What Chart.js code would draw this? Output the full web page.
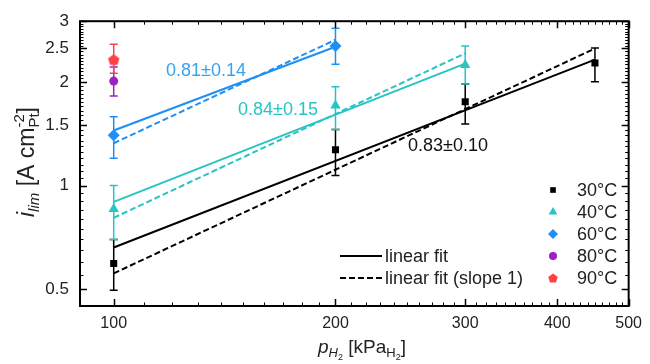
<!DOCTYPE html>
<html><head><meta charset="utf-8">
<script src="https://cdn.jsdelivr.net/npm/chart.js@4.4.1/dist/chart.umd.min.js"></script>
<style>html,body{margin:0;padding:0;background:#fff}</style>
</head><body>
<canvas id="c" width="650" height="364"></canvas>
<script>
// ---- axis ticks ----
const xTickValues = [100, 200, 300, 400, 500];
const yTickValues = [0.5, 1, 1.5, 2, 2.5, 3];

// ---- measured data (p_H2 in kPa, i_lim in A cm^-2 Pt) ----
const pressure30 = [100, 200, 300, 450];
const ilim30     = [0.594, 1.27, 1.75, 2.27];
const lo30       = [0.497, 1.07, 1.51, 2.00];
const hi30       = [0.697, 1.455, 1.97, 2.51];

const pressure40 = [100, 200, 300];
const ilim40     = [0.855, 1.707, 2.24];
const lo40       = [0.697, 1.455, 1.97];
const hi40       = [1.00, 1.936, 2.54];

const pressure60 = [100, 200];
const ilim60     = [1.40, 2.54];
const lo60       = [1.20, 2.25];
const hi60       = [1.585, 2.86];

const pressure80 = [100];
const ilim80     = [2.01];
const lo80       = [1.82];
const hi80       = [2.21];

const pressure90 = [100];
const ilim90     = [2.32];
const lo90       = [2.12];
const hi90       = [2.57];

// ---- fit lines (end points) ----
const fit30X = [100, 450];
const fit30  = [0.661, 2.32];
const fit30s1 = [0.556, 2.50];
const fit40X = [100, 300];
const fit40  = [0.897, 2.26];
const fit40s1 = [0.806, 2.42];
const fit60X = [100, 200];
const fit60  = [1.445, 2.53];
const fit60s1 = [1.327, 2.65];

const slopeLabels = ['0.83\u00b10.10', '0.84\u00b10.15', '0.81\u00b10.14'];
const tempLabels = ['30\u00b0C', '40\u00b0C', '60\u00b0C', '80\u00b0C', '90\u00b0C'];
const fitLabels = ['linear fit', 'linear fit (slope 1)'];

const C_BLACK = '#000000', C_CYAN = '#27c4c4', C_BLUE = '#1e90f5', C_PURPLE = '#9b22c4', C_RED = '#ff4141';
const FONT = '"Liberation Sans", Arial, sans-serif';

function pts(xs, ys) { return xs.map((x, i) => ({x: x, y: ys[i]})); }

// pentagon marker
function pentagon(color, r) {
  const c = document.createElement('canvas');
  const s = Math.ceil(r * 2 + 2);
  c.width = s; c.height = s;
  const g = c.getContext('2d');
  g.fillStyle = color;
  g.beginPath();
  for (let k = 0; k < 5; k++) {
    const a = -Math.PI / 2 + k * 2 * Math.PI / 5;
    const px = s / 2 + r * Math.cos(a), py = s / 2 + r * Math.sin(a) + 0.5;
    if (k === 0) g.moveTo(px, py); else g.lineTo(px, py);
  }
  g.closePath(); g.fill();
  return c;
}
const pentBig = pentagon(C_RED, 6);
const pentSmall = pentagon(C_RED, 5);

function fitDs(xs, ys, color, dashed) {
  return {type: 'line', data: pts(xs, ys), borderColor: color, borderWidth: 2,
    borderDash: dashed ? [6, 3] : [], pointRadius: 0, fill: false, showLine: true, order: 2};
}
function dataDs(xs, ys, lo, hi, color, style, r) {
  return {type: 'scatter', data: pts(xs, ys), errLo: lo, errHi: hi, errColor: color,
    backgroundColor: color, borderColor: color, borderWidth: 0, pointStyle: style,
    pointRadius: r, order: 1};
}

const errorBars = {
  id: 'errorBars',
  beforeDatasetsDraw(chart) {
    const ctx = chart.ctx, y = chart.scales.y;
    ctx.save();
    ctx.lineWidth = 1.5;
    chart.data.datasets.forEach((ds, di) => {
      if (!ds.errLo) return;
      const meta = chart.getDatasetMeta(di);
      meta.data.forEach((pt, i) => {
        const yl = y.getPixelForValue(ds.errLo[i]);
        const yh = y.getPixelForValue(ds.errHi[i]);
        ctx.strokeStyle = ds.errColor;
        ctx.beginPath();
        ctx.moveTo(pt.x, yl); ctx.lineTo(pt.x, yh);
        ctx.moveTo(pt.x - 4, yl); ctx.lineTo(pt.x + 4, yl);
        ctx.moveTo(pt.x - 4, yh); ctx.lineTo(pt.x + 4, yh);
        ctx.stroke();
      });
    });
    ctx.restore();
  }
};

function drawRuns(ctx, runs, x0, base) {
  let x = x0;
  runs.forEach(r => {
    if (r.stack) {
      let w = 0;
      r.stack.forEach(s => { ctx.font = s.f; ctx.fillText(s.t, x, base + s.dy); w = Math.max(w, ctx.measureText(s.t).width); });
      x += w;
    } else {
      ctx.font = r.f; ctx.fillText(r.t, x, base + r.dy); x += ctx.measureText(r.t).width;
    }
  });
  return x - x0;
}
function runsWidth(ctx, runs) {
  let w = 0;
  runs.forEach(r => {
    if (r.stack) { let m = 0; r.stack.forEach(s => { ctx.font = s.f; m = Math.max(m, ctx.measureText(s.t).width); }); w += m; }
    else { ctx.font = r.f; w += ctx.measureText(r.t).width; }
  });
  return w;
}

const decorations = {
  id: 'decorations',
  afterDraw(chart) {
    const ctx = chart.ctx, a = chart.chartArea, xs = chart.scales.x, ys = chart.scales.y;
    ctx.save();
    ctx.strokeStyle = '#000';
    // minor ticks
    ctx.lineWidth = 1;
    ctx.beginPath();
    for (let v = 90; v <= 500; v += 10) {
      const p = Math.round(xs.getPixelForValue(v)) + 0.5;
      ctx.moveTo(p, a.bottom); ctx.lineTo(p, a.bottom - 3.5);
      ctx.moveTo(p, a.top); ctx.lineTo(p, a.top + 3.5);
    }
    for (let k = 9; k <= 60; k++) {
      const v = k * 0.05;
      const p = Math.round(ys.getPixelForValue(v)) + 0.5;
      ctx.moveTo(a.left, p); ctx.lineTo(a.left + 3.5, p);
      ctx.moveTo(a.right, p); ctx.lineTo(a.right - 3.5, p);
    }
    ctx.stroke();
    // major ticks
    ctx.lineWidth = 1.5;
    ctx.beginPath();
    xTickValues.forEach(v => {
      const p = Math.round(xs.getPixelForValue(v)) + 0.5;
      ctx.moveTo(p, a.bottom); ctx.lineTo(p, a.bottom - 7);
      ctx.moveTo(p, a.top); ctx.lineTo(p, a.top + 7);
    });
    yTickValues.forEach(v => {
      const p = Math.round(ys.getPixelForValue(v)) + 0.5;
      ctx.moveTo(a.left, p); ctx.lineTo(a.left + 7, p);
      ctx.moveTo(a.right, p); ctx.lineTo(a.right - 7, p);
    });
    ctx.stroke();
    // frame
    ctx.lineWidth = 2;
    ctx.strokeRect(a.left, a.top, a.right - a.left, a.bottom - a.top);

    // slope annotations
    ctx.textBaseline = 'middle';
    ctx.textAlign = 'left';
    ctx.font = '18px ' + FONT;
    ctx.fillStyle = '#39a2f0'; ctx.fillText(slopeLabels[2], 166, 71);
    ctx.fillStyle = C_CYAN; ctx.fillText(slopeLabels[1], 238, 110);
    ctx.fillStyle = '#111'; ctx.fillText(slopeLabels[0], 408, 146);

    // legend: temperatures
    const H = Chart.helpers;
    const items = [
      {c: C_BLACK, s: 'rect', r: 4},
      {c: C_CYAN, s: 'triangle', r: 5},
      {c: C_BLUE, s: 'rectRot', r: 5},
      {c: C_PURPLE, s: 'circle', r: 4},
      {c: C_RED, s: pentSmall, r: 5}
    ];
    const rowY = [190, 212, 234, 256, 278];
    items.forEach((it, i) => {
      ctx.fillStyle = it.c; ctx.strokeStyle = it.c;
      H.drawPoint(ctx, {pointStyle: it.s, radius: it.r, rotation: 0, borderWidth: 0}, 553, rowY[i]);
      ctx.fillStyle = '#222';
      ctx.font = '18px ' + FONT;
      ctx.fillText(tempLabels[i], 577, rowY[i] + 1);
    });
    // legend: fit lines
    ctx.strokeStyle = '#000'; ctx.lineWidth = 2.2;
    ctx.beginPath(); ctx.moveTo(340, 256); ctx.lineTo(382, 256); ctx.stroke();
    ctx.setLineDash([6, 3]);
    ctx.beginPath(); ctx.moveTo(340, 278); ctx.lineTo(382, 278); ctx.stroke();
    ctx.setLineDash([]);
    ctx.fillStyle = '#222';
    ctx.fillText(fitLabels[0], 385, 257);
    ctx.fillText(fitLabels[1], 385, 279);

    // axis titles
    ctx.textBaseline = 'alphabetic';
    ctx.fillStyle = '#222';
    const xRuns = [
      {t: 'p', f: 'italic 19px ' + FONT, dy: 0},
      {t: 'H', f: 'italic 13px ' + FONT, dy: 4},
      {t: '2', f: '9px ' + FONT, dy: 7},
      {t: ' [kPa', f: '19px ' + FONT, dy: 0},
      {t: 'H', f: '13px ' + FONT, dy: 4},
      {t: '2', f: '9px ' + FONT, dy: 7},
      {t: ']', f: '19px ' + FONT, dy: 0}
    ];
    const xw = runsWidth(ctx, xRuns);
    drawRuns(ctx, xRuns, 362 - xw / 2, 353);

    const yRuns = [
      {t: 'i', f: 'italic 23px ' + FONT, dy: 0},
      {t: 'lim', f: 'italic 15px ' + FONT, dy: 5},
      {t: ' [A cm', f: '23px ' + FONT, dy: 0},
      {stack: [{t: '-2', f: '15px ' + FONT, dy: -10}, {t: 'Pt', f: '15px ' + FONT, dy: 5}]},
      {t: ']', f: '23px ' + FONT, dy: 0}
    ];
    ctx.translate(34, 162);
    ctx.rotate(-Math.PI / 2);
    const yw = runsWidth(ctx, yRuns);
    drawRuns(ctx, yRuns, -yw / 2, 0);
    ctx.restore();
  }
};

new Chart(document.getElementById('c'), {
  data: {
    datasets: [
      fitDs(fit30X, fit30, C_BLACK, false),
      fitDs(fit30X, fit30s1, C_BLACK, true),
      fitDs(fit40X, fit40, C_CYAN, false),
      fitDs(fit40X, fit40s1, C_CYAN, true),
      fitDs(fit60X, fit60, C_BLUE, false),
      fitDs(fit60X, fit60s1, C_BLUE, true),
      dataDs(pressure30, ilim30, lo30, hi30, C_BLACK, 'rect', 5),
      dataDs(pressure40, ilim40, lo40, hi40, C_CYAN, 'triangle', 6),
      dataDs(pressure60, ilim60, lo60, hi60, C_BLUE, 'rectRot', 6),
      dataDs(pressure80, ilim80, lo80, hi80, C_PURPLE, 'circle', 4.5),
      dataDs(pressure90, ilim90, lo90, hi90, C_RED, pentBig, 6)
    ]
  },
  options: {
    responsive: false,
    devicePixelRatio: 1,
    animation: false,
    layout: {padding: {top: 19, right: 17, left: 0, bottom: 0}},
    plugins: {legend: {display: false}, tooltip: {enabled: false}},
    scales: {
      x: {
        type: 'logarithmic', position: 'bottom', min: 90, max: 500,
        grid: {display: false, drawTicks: false}, border: {display: false},
        afterBuildTicks: s => { s.ticks = xTickValues.map(v => ({value: v})); },
        afterFit: s => { s.height = 58; },
        ticks: {autoSkip: false, maxRotation: 0, padding: 8, color: '#222',
          font: {family: FONT, size: 16}, callback: v => String(v)}
      },
      y: {
        type: 'logarithmic', position: 'left', min: 0.447, max: 3,
        grid: {display: false, drawTicks: false}, border: {display: false},
        afterBuildTicks: s => { s.ticks = yTickValues.map(v => ({value: v})); },
        afterFit: s => { s.width = 80; },
        ticks: {autoSkip: false, padding: 11, color: '#222',
          font: {family: FONT, size: 17}, callback: v => String(v)}
      }
    }
  },
  plugins: [errorBars, decorations]
});
</script>
</body></html>
